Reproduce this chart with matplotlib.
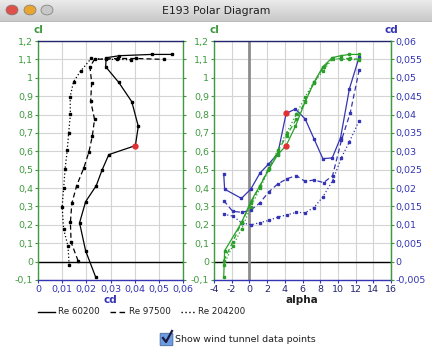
import numpy as np
import matplotlib
matplotlib.use("Agg")
import matplotlib.pyplot as plt
from matplotlib.ticker import FuncFormatter, MultipleLocator
from matplotlib.lines import Line2D
from matplotlib.patches import Circle, FancyBboxPatch

# polar data (alpha in deg, cl, cd)
alpha_60 = [-2.9, -2.8, -0.9, 0.15, 1.2, 2.15, 3.2, 4.15, 5.2, 6.3, 7.3, 8.3, 9.36, 10.3, 11.3, 12.4]
cl_60 = [-0.082, 0.059, 0.211, 0.326, 0.413, 0.498, 0.582, 0.631, 0.736, 0.870, 0.975, 1.060, 1.109, 1.120, 1.127, 1.127]
cd_60 = [0.0238, 0.0197, 0.0172, 0.0197, 0.0241, 0.0265, 0.0293, 0.0403, 0.0415, 0.0388, 0.0334, 0.0280, 0.0282, 0.0337, 0.0470, 0.0556]

alpha_97 = [-2.9, -1.9, -0.87, 0.15, 1.2, 2.2, 3.2, 4.2, 5.3, 6.3, 7.3, 8.4, 9.4, 10.4, 11.4, 12.4]
cl_97 = [0.004, 0.105, 0.213, 0.317, 0.413, 0.511, 0.598, 0.685, 0.774, 0.873, 0.973, 1.060, 1.100, 1.105, 1.105, 1.100]
cd_97 = [0.0166, 0.0137, 0.0134, 0.0140, 0.0160, 0.0190, 0.0211, 0.0225, 0.0234, 0.0218, 0.0222, 0.0215, 0.0234, 0.0330, 0.0405, 0.0521]

alpha_204 = [-2.9, -1.9, -0.87, 0.15, 1.2, 2.2, 3.2, 4.2, 5.3, 6.3, 7.3, 8.3, 9.4, 10.4, 11.3, 12.4]
cl_204 = [-0.018, 0.085, 0.177, 0.299, 0.398, 0.502, 0.607, 0.701, 0.801, 0.897, 0.978, 1.036, 1.105, 1.100, 1.100, 1.098]
cd_204 = [0.0129, 0.0124, 0.0106, 0.0100, 0.0106, 0.0112, 0.0121, 0.0127, 0.0134, 0.0133, 0.0147, 0.0176, 0.0220, 0.0283, 0.0326, 0.0383]

re_labels = ['Re 60200', 'Re 97500', 'Re 204200']
sel = 7  # highlighted point of Re 60200

W, H = 432, 354
GREEN = '#3f9a3f'
GREEN_L = '#2aa02a'
BLUE = '#3434b4'
NAVY = '#24246e'
styles = ['-', (0, (4, 2.5)), (0, (1, 1.8))]

plt.rcParams['font.family'] = ['DejaVu Sans']

def fx(x):
    return x / W

def fy(y):
    return 1 - y / H

def comma(v, pos=None):
    s = f"{round(v, 4):g}".replace('.', ',')
    return '0' if s in ('-0', '0') else s

fig = plt.figure(figsize=(W / 100, H / 100), dpi=100)
fig.patch.set_facecolor('white')

# window title bar
bar = fig.add_axes([0, fy(22), 1, 22 / H])
grad = np.linspace(0.92, 0.78, 50).reshape(-1, 1)
bar.imshow(grad, aspect='auto', cmap='gray', vmin=0, vmax=1, extent=[0, 1, 0, 1])
bar.axhline(0.01, color='#8a8a8a', lw=1)
bar.set_axis_off()
bar.text(0.5, 0.5, 'E193 Polar Diagram', ha='center', va='center', fontsize=7.8, color='#202020')
for cx, col in [(12, '#e0504a'), (30, '#e8a630'), (47, '#c8c8c8')]:
    fig.patches.append(Circle((fx(cx), fy(10)), 6 / W, transform=fig.transFigure,
                              facecolor=col, edgecolor='#777777', lw=0.5))

ax1 = fig.add_axes([fx(38), fy(280), 145 / W, 239 / H])
ax2 = fig.add_axes([fx(214), fy(280), 177 / W, 239 / H])
ax2b = ax2.twinx()

def frame(ax):
    ax.spines['left'].set_color(GREEN)
    ax.spines['right'].set_color(GREEN)
    ax.spines['top'].set_color(NAVY)
    ax.spines['bottom'].set_color(BLUE)
    for s in ax.spines.values():
        s.set_linewidth(1)
    ax.grid(True, color='#d4d4d4', lw=0.8)
    ax.set_axisbelow(True)

# left: cl vs cd
frame(ax1)
ax1.set_xlim(0, 0.06)
ax1.set_ylim(-0.1, 1.2)
ax1.xaxis.set_major_locator(MultipleLocator(0.01))
ax1.yaxis.set_major_locator(MultipleLocator(0.1))
ax1.xaxis.set_major_formatter(FuncFormatter(comma))
ax1.yaxis.set_major_formatter(FuncFormatter(comma))
ax1.tick_params(axis='y', colors=GREEN, labelsize=6.8, length=2.5, pad=1, right=True)
ax1.tick_params(axis='x', colors=BLUE, labelsize=6.8, length=2.5, pad=1)
ax1.axhline(0, color='black', lw=1, zorder=2)
for cd, cl, ls in zip([cd_60, cd_97, cd_204], [cl_60, cl_97, cl_204], styles):
    ax1.plot(cd, cl, color='black', ls=ls, lw=0.9, marker='s', ms=1.8, zorder=3)
ax1.plot(cd_60[sel], cl_60[sel], 'o', color='#e03030', ms=3.5, zorder=4)

# right: cl and cd vs alpha
frame(ax2)
ax2.set_xlim(-4, 16)
ax2.set_ylim(-0.1, 1.2)
ax2.xaxis.set_major_locator(MultipleLocator(2))
ax2.yaxis.set_major_locator(MultipleLocator(0.1))
ax2.xaxis.set_major_formatter(FuncFormatter(comma))
ax2.yaxis.set_major_formatter(FuncFormatter(comma))
ax2.tick_params(axis='y', colors=GREEN, labelsize=6.8, length=2.5, pad=1)
ax2.tick_params(axis='x', colors=BLUE, labelcolor=NAVY, labelsize=6.8, length=2.5, pad=1)
ax2.axhline(0, color='black', lw=1, zorder=2)
ax2.axvline(0, color='#8c8c8c', lw=2, zorder=2)
ax2b.set_ylim(-0.005, 0.06)
ax2b.yaxis.set_major_locator(MultipleLocator(0.005))
ax2b.yaxis.set_major_formatter(FuncFormatter(comma))
ax2b.tick_params(axis='y', colors=GREEN, labelcolor=BLUE, labelsize=6.8, length=2.5, pad=1)
for s in ax2b.spines.values():
    s.set_visible(False)
ax2b.spines['right'].set_visible(True)
ax2b.spines['right'].set_color(GREEN)

for a, cd, ls in zip([alpha_60, alpha_97, alpha_204], [cd_60, cd_97, cd_204], styles):
    ax2b.plot(a, cd, color=BLUE, ls=ls, lw=0.9, marker='s', ms=1.8, zorder=3)
for a, cl, ls in zip([alpha_60, alpha_97, alpha_204], [cl_60, cl_97, cl_204], styles):
    ax2b.plot(a, [(c + 0.1) / 1.3 * 0.065 - 0.005 for c in cl], color=GREEN_L, ls=ls, lw=0.9,
              marker='s', ms=1.8, zorder=3)
ax2b.plot(alpha_60[sel], cd_60[sel], 'o', color='#e03030', ms=3.5, zorder=4)
ax2b.plot(alpha_60[sel], (cl_60[sel] + 0.1) / 1.3 * 0.065 - 0.005, 'o', color='#e03030', ms=3.5, zorder=4)

# axis titles
fig.text(fx(38), fy(30), 'cl', color=GREEN, fontsize=7.5, fontweight='bold', ha='center', va='center')
fig.text(fx(214), fy(30), 'cl', color=GREEN, fontsize=7.5, fontweight='bold', ha='center', va='center')
fig.text(fx(391), fy(30), 'cd', color=BLUE, fontsize=7.5, fontweight='bold', ha='center', va='center')
fig.text(fx(110), fy(300), 'cd', color=BLUE, fontsize=7.5, fontweight='bold', ha='center', va='center')
fig.text(fx(302), fy(300), 'alpha', color='#202020', fontsize=7.5, fontweight='bold', ha='center', va='center')

# legend
for (x0, x1, xt), ls, lab in zip([(38, 55, 58), (110, 126, 129), (181, 195, 198)], styles, re_labels):
    fig.lines.append(Line2D([fx(x0), fx(x1)], [fy(312), fy(312)], transform=fig.transFigure,
                            color='black', ls=ls, lw=1))
    fig.text(fx(xt), fy(312), lab, fontsize=6.3, va='center', ha='left', color='#202020')

# checkbox
fig.patches.append(FancyBboxPatch((fx(161), fy(345)), 11 / W, 11 / H, boxstyle='round,pad=0.002',
                                  transform=fig.transFigure, facecolor='#6d9de0', edgecolor='#44679a', lw=0.6))
fig.lines.append(Line2D([fx(163), fx(166), fx(172)], [fy(338), fy(342), fy(331)],
                        transform=fig.transFigure, color='#1a1a40', lw=1.6))
fig.text(fx(175), fy(339), 'Show wind tunnel data points', fontsize=6.8, va='center', ha='left', color='#202020')

fig.savefig('out.png', dpi=100)
